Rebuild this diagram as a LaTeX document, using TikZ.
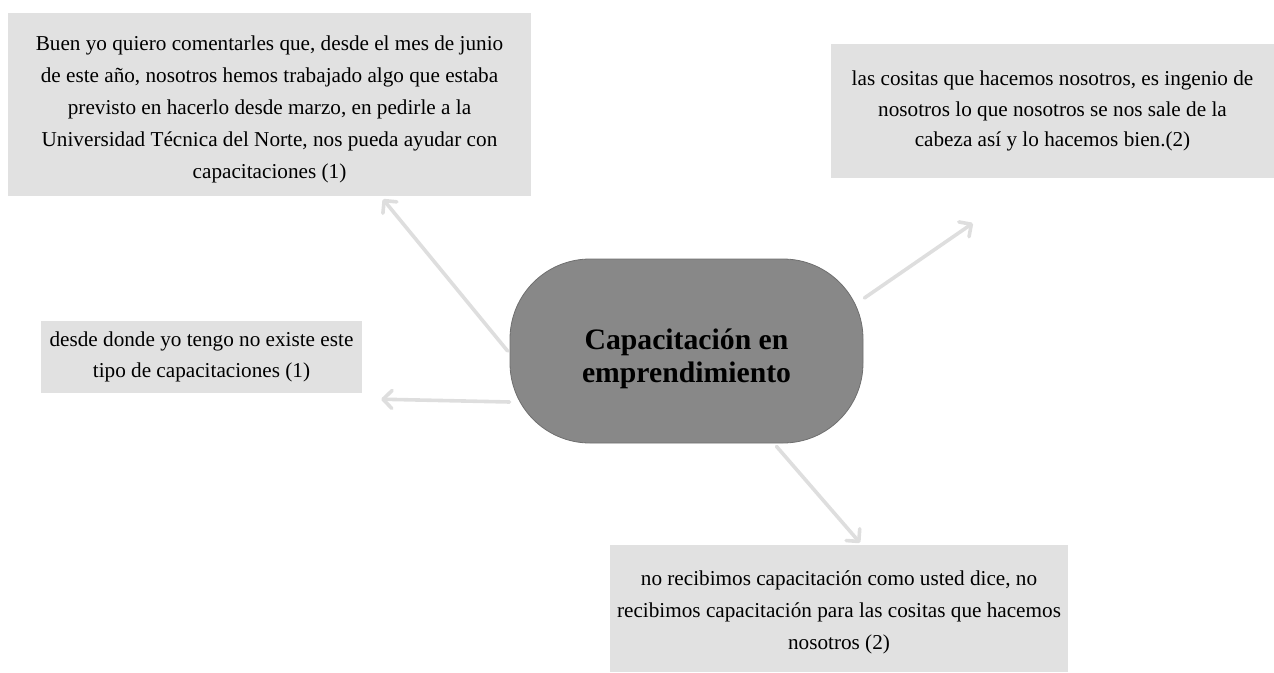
\documentclass[tikz,border=0pt]{standalone}
\usepackage{fontspec}
\setmainfont{Liberation Serif}
\usetikzlibrary{arrows.meta}
\definecolor{boxgray}{HTML}{E1E1E1}
\definecolor{arrgray}{HTML}{DEDEDE}
\definecolor{centergray}{HTML}{888888}
\definecolor{centerline}{HTML}{6F6F6F}
\begin{document}
\begin{tikzpicture}[x=1pt,y=-1pt,
  quote/.style={fill=boxgray, inner sep=0pt, align=center, anchor=center,
    font=\fontsize{21.2}{30.5}\selectfont},
  widequote/.style={quote, font=\fontsize{21.2}{32}\selectfont},
  hub/.style={fill=centergray, draw=centerline, line width=0.8pt, rounded corners=80pt,
    inner sep=0pt, align=center, anchor=center, minimum width=353pt, minimum height=184pt,
    font=\bfseries\fontsize{29.7}{33}\selectfont},
  arr/.style={draw=arrgray, line width=3.6pt, line cap=round,
    -{Straight Barb[length=9pt,width=18pt,line cap=round,line join=round]}}]
\useasboundingbox (0,0) rectangle (1274,672);

\node[widequote, minimum width=523pt, minimum height=183pt] (b1) at (269.5,104.5)
  {\rule{0pt}{24pt}Buen yo quiero comentarles que, desde el mes de junio\\
   de este año, nosotros hemos trabajado algo que estaba\\
   previsto en hacerlo desde marzo, en pedirle a la\\
   Universidad Técnica del Norte, nos pueda ayudar con\\
   capacitaciones (1)};

\node[quote, minimum width=443pt, minimum height=134pt] (b2) at (1052.5,111)
  {las cositas que hacemos nosotros, es ingenio de\\
   nosotros lo que nosotros se nos sale de la\\
   cabeza así y lo hacemos bien.(2)};

\node[quote, minimum width=321pt, minimum height=72pt] (b3) at (201.5,357)
  {desde donde yo tengo no existe este\\
   tipo de capacitaciones (1)};

\node[widequote, minimum width=458pt, minimum height=127pt] (b4) at (839,608.5)
  {\rule{0pt}{22pt}no recibimos capacitación como usted dice, no\\
   recibimos capacitación para las cositas que hacemos\\
   nosotros (2)};

\node[hub] (c) at (686.5,351) {\rule{0pt}{37pt}Capacitación en\\emprendimiento};

\coordinate (e1) at ([xshift=113.5pt,yshift=-3pt]b1.south);
\coordinate (e2) at ([xshift=142pt,yshift=-45pt]b2.south west);
\coordinate (e3) at ([xshift=19pt,yshift=-6pt]b3.south east);
\coordinate (e4) at ([xshift=21pt,yshift=2pt]b4.north);

\draw[arr] ([xshift=-2pt]c.west) -- (e1);
\draw[arr] ([yshift=-51pt]c.west) -- (e3);
\draw[arr] ([xshift=1pt,yshift=53pt]c.east) -- (e2);
\draw[arr] ([xshift=90pt,yshift=-3pt]c.south) -- (e4);
\end{tikzpicture}
\end{document}
